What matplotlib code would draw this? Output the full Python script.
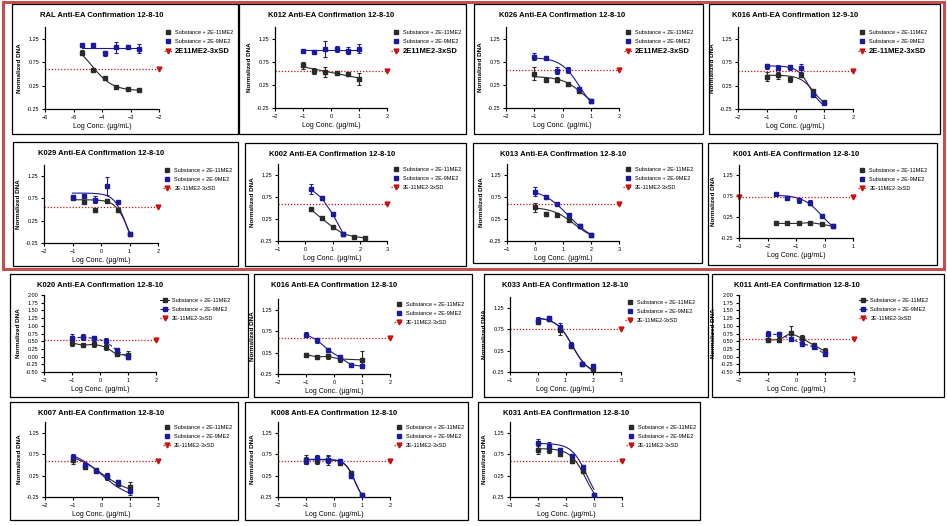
import numpy as np
import matplotlib
matplotlib.use("Agg")
import matplotlib.pyplot as plt
from matplotlib.patches import Rectangle
from matplotlib.lines import Line2D

plt.rcParams['font.family'] = ['Liberation Sans', 'DejaVu Sans']

W, H = 947, 526
nan = np.nan

# ---- chart data ----
titles = [
    "RAL Anti-EA Confirmation 12-8-10", "K012 Anti-EA Confirmation 12-8-10",
    "K026 Anti-EA Confirmation 12-8-10", "K016 Anti-EA Confirmation 12-9-10",
    "K029 Anti-EA Confirmation 12-8-10", "K002 Anti-EA Confirmation 12-8-10",
    "K013 Anti-EA Confirmation 12-8-10", "K001 Anti-EA Confirmation 12-8-10",
    "K020 Anti-EA Confirmation 12-8-10", "K016 Anti-EA Confirmation 12-8-10",
    "K033 Anti-EA Confirmation 12-8-10", "K011 Anti-EA Confirmation 12-8-10",
    "K007 Anti-EA Confirmation 12-8-10", "K008 Anti-EA Confirmation 12-8-10",
    "K031 Anti-EA Confirmation 12-8-10",
]
label_lo = "Substance + 2E-11ME2"
label_hi = "Substance + 2E-9ME2"
cut_labels = ["2E11ME2-3xSD", "2E11ME2-3xSD", "2E11ME2-3xSD", "2E-11ME2-3xSD"] + ["2E-11ME2-3xSD"] * 11

x_conc = [
    [-4.7, -4.3, -3.9, -3.5, -3.1, -2.7],
    [-1, -0.6, -0.2, 0.2, 0.6, 1.0],
    [-1, -0.6, -0.2, 0.2, 0.6, 1.0],
    [-1, -0.6, -0.2, 0.2, 0.6, 1.0],
    [-1, -0.6, -0.2, 0.2, 0.6, 1.0],
    [0.2, 0.6, 1.0, 1.4, 1.8, 2.2],
    [0, 0.4, 0.8, 1.2, 1.6, 2.0],
    [-1.7, -1.3, -0.9, -0.5, -0.1, 0.3],
    [-1, -0.6, -0.2, 0.2, 0.6, 1.0],
    [-1, -0.6, -0.2, 0.2, 0.6, 1.0],
    [0, 0.4, 0.8, 1.2, 1.6, 2.0],
    [-1, -0.6, -0.2, 0.2, 0.6, 1.0],
    [-1, -0.6, -0.2, 0.2, 0.6, 1.0],
    [-1, -0.6, -0.2, 0.2, 0.6, 1.0],
    [-2, -1.6, -1.2, -0.8, -0.4, 0.0],
]
lo_y = [
    [0.95, 0.58, 0.41, 0.22, 0.18, 0.16],
    [0.67, 0.55, 0.53, 0.50, 0.48, 0.38],
    [0.49, 0.36, 0.36, 0.26, 0.12, -0.09],
    [0.44, 0.47, 0.38, 0.47, 0.13, -0.11],
    [0.75, 0.67, 0.48, 0.70, 0.48, -0.04],
    [0.47, 0.265, 0.07, -0.09, -0.15, -0.18],
    [0.52, 0.37, 0.35, 0.23, 0.08, -0.11],
    [0.10, 0.10, 0.10, 0.12, 0.08, 0.03],
    [0.44, 0.37, 0.40, 0.31, 0.07, 0.05],
    [0.20, 0.15, 0.16, 0.10, nan, 0.08],
    [0.91, 0.98, 0.72, 0.35, -0.06, -0.17],
    [0.54, 0.55, 0.76, 0.59, 0.37, 0.17],
    [0.62, 0.45, 0.38, 0.22, 0.05, -0.02],
    [0.62, 0.60, 0.62, 0.55, 0.30, -0.20],
    [0.85, 0.85, 0.75, 0.60, 0.35, -0.20],
]
lo_err = [
    [0.05, 0.02, 0.03, 0.02, 0.01, 0.01],
    [0.07, 0.07, 0.11, 0.03, 0.03, 0.13],
    [0.14, 0.03, 0.05, 0.02, 0.02, 0.02],
    [0.10, 0.07, 0.05, 0.03, 0.02, 0.02],
    [0.03, 0.03, 0.03, 0.03, 0.03, 0.02],
    [0.04, 0.02, 0.02, 0.02, 0.02, 0.02],
    [0.10, 0.05, 0.03, 0.03, 0.02, 0.02],
    [0.02, 0.02, 0.02, 0.02, 0.02, 0.02],
    [0.08, 0.04, 0.08, 0.08, 0.03, 0.12],
    [0.03, 0.02, 0.06, 0.06, 0.0, 0.20],
    [0.05, 0.05, 0.10, 0.05, 0.03, 0.03],
    [0.08, 0.06, 0.22, 0.12, 0.05, 0.12],
    [0.10, 0.05, 0.05, 0.08, 0.05, 0.12],
    [0.10, 0.08, 0.12, 0.05, 0.05, 0.05],
    [0.10, 0.08, 0.05, 0.05, 0.05, 0.03],
]
hi_y = [
    [1.11, 1.12, 0.94, 1.07, 1.08, 1.04],
    [0.98, 0.95, 1.03, 1.03, 0.99, 1.03],
    [0.86, 0.83, 0.56, 0.57, 0.16, -0.09],
    [0.66, 0.63, 0.64, 0.63, 0.05, -0.12],
    [0.79, 0.81, 0.72, 1.03, 0.67, -0.04],
    [0.93, 0.73, 0.37, -0.09, nan, nan],
    [0.87, 0.75, 0.58, 0.33, 0.09, -0.11],
    [0.80, 0.71, 0.65, 0.59, 0.27, 0.03],
    [0.60, 0.63, 0.59, 0.50, 0.20, -0.02],
    [0.67, 0.54, 0.31, 0.14, -0.03, -0.07],
    [0.96, 1.00, 0.79, 0.39, -0.06, -0.12],
    [0.72, 0.72, 0.58, 0.42, 0.32, 0.07],
    [0.68, 0.50, 0.35, 0.25, 0.10, -0.12],
    [0.60, 0.65, 0.62, 0.58, 0.25, -0.20],
    [1.00, 0.95, 0.85, 0.70, 0.45, -0.20],
]
hi_err = [
    [0.03, 0.03, 0.05, 0.12, 0.03, 0.10],
    [0.02, 0.02, 0.17, 0.07, 0.08, 0.10],
    [0.07, 0.03, 0.07, 0.07, 0.03, 0.02],
    [0.05, 0.05, 0.05, 0.08, 0.03, 0.02],
    [0.03, 0.05, 0.08, 0.20, 0.02, 0.02],
    [0.12, 0.05, 0.05, 0.03, 0.0, 0.0],
    [0.10, 0.04, 0.02, 0.03, 0.03, 0.02],
    [0.04, 0.03, 0.07, 0.06, 0.02, 0.02],
    [0.12, 0.10, 0.07, 0.10, 0.04, 0.06],
    [0.05, 0.06, 0.05, 0.05, 0.03, 0.05],
    [0.07, 0.05, 0.10, 0.05, 0.03, 0.05],
    [0.12, 0.08, 0.05, 0.08, 0.02, 0.03],
    [0.08, 0.05, 0.05, 0.05, 0.05, 0.08],
    [0.08, 0.08, 0.08, 0.05, 0.05, 0.03],
    [0.10, 0.08, 0.05, 0.05, 0.05, 0.03],
]
cutoff = [0.605, 0.56, 0.57, 0.56, 0.55, 0.59, 0.59, 0.73, 0.53, 0.60, 0.75, 0.58, 0.60, 0.60, 0.60]

# fitted curves: (top, bottom, logEC50, hill), or a drawing mode
lo_fit = [(1.2, 0.14, -4.35, 1.2), "linear", (0.43, -0.3, 0.7, 1.2), (0.47, -0.25, 0.65, 1.8),
          (0.72, -0.6, 0.95, 2.0), "line", (0.52, -0.25, 1.4, 1.1), "line", "line", "line",
          (1.02, -0.3, 1.25, 1.5), "line", (0.8, -0.2, 0.0, 0.8), (0.62, -0.4, 0.75, 2.5),
          (0.88, -0.5, -0.3, 1.6)]
hi_fit = ["flat", "flat", (0.84, -0.4, 0.6, 1.3), (0.67, -0.25, 0.5, 2.0),
          (0.87, -0.6, 0.9, 2.0), "line", (0.95, -0.3, 1.2, 0.9), (0.78, -0.2, -0.1, 1.3),
          "dash", "line", (1.02, -0.3, 1.25, 1.5), "dash", (0.85, -0.3, 0.0, 0.85),
          (0.63, -0.4, 0.75, 2.5), (1.0, -0.5, -0.25, 1.6)]

x_lims = [(-6, -2), (-2, 2), (-2, 2), (-2, 2), (-2, 2), (-1, 3), (-1, 3), (-3, 1),
          (-2, 2), (-2, 2), (-1, 3), (-2, 2), (-2, 2), (-2, 2), (-3, 1)]
y_lims = [(-0.25, 1.5)] * 8 + [(-0.5, 2.0), (-0.25, 1.5), (-0.25, 1.5), (-0.5, 2.0)] + [(-0.25, 1.5)] * 3

# ---- layout in pixels ----
boxes = [(12, 4, 238, 134), (239, 4, 466, 134), (474, 4, 703, 134), (709, 4, 940, 134),
         (13, 142, 238, 266), (245, 143, 466, 266), (473, 143, 702, 263), (708, 143, 937, 265),
         (10, 274, 248, 397), (254, 274, 472, 397), (484, 274, 708, 397), (712, 274, 944, 397),
         (10, 402, 238, 520), (245, 402, 468, 520), (478, 402, 700, 520)]
# x-left, x-right, y-bottom, y-top of the plotting area
areas = [(45, 159, 109, 27), (275, 387, 108, 27), (506, 619, 108, 27), (738, 853, 109, 27),
         (44, 158, 243, 165), (278, 387, 241, 164), (507, 619, 241, 164), (739, 853, 238, 165),
         (44, 156, 372, 295), (278, 390, 374, 299), (510, 621, 372, 297), (739, 854, 372, 295),
         (45, 158, 497, 422), (278, 390, 497, 422), (510, 622, 497, 422)]

BLK = '#2a2a2a'
BLU = '#1a1a9c'
RED = '#cc1111'


def logistic(x, p):
    top, bottom, ec50, hill = p
    return bottom + (top - bottom) / (1 + 10 ** ((x - ec50) * hill))


def draw_fit(ax, x, y, fit, color):
    ok = ~np.isnan(y)
    x, y = x[ok], y[ok]
    if isinstance(fit, tuple):
        xx = np.linspace(x.min(), x.max(), 100)
        ax.plot(xx, logistic(xx, fit), color=color, lw=0.8, zorder=2)
    elif fit == "flat":
        ax.plot([x.min(), x.max()], [y.mean()] * 2, color=color, lw=0.8, zorder=2)
    elif fit == "linear":
        k, b = np.polyfit(x, y, 1)
        ax.plot([x.min(), x.max()], [k * x.min() + b, k * x.max() + b], color=color, lw=0.8, zorder=2)
    elif fit == "line":
        ax.plot(x, y, color=color, lw=0.8, zorder=2)
    elif fit == "dash":
        ax.plot(x, y, color=color, lw=0.8, ls=(0, (3, 2)), zorder=2)


fig = plt.figure(figsize=(W / 100, H / 100), dpi=100)

for i in range(15):
    l, t, r, b = boxes[i]
    fig.add_artist(Rectangle((l / W, 1 - b / H), (r - l) / W, (b - t) / H,
                             transform=fig.transFigure, fill=False, ec='black', lw=0.9))
    x0, x1, yb, yt = areas[i]
    ax = fig.add_axes([x0 / W, 1 - yb / H, (x1 - x0) / W, (yb - yt) / H])
    ax.set_xlim(*x_lims[i])
    ax.set_ylim(*y_lims[i])

    x = np.array(x_conc[i], dtype=float)
    for yv, ev, fit, col in [(lo_y[i], lo_err[i], lo_fit[i], BLK), (hi_y[i], hi_err[i], hi_fit[i], BLU)]:
        yv = np.array(yv, dtype=float)
        draw_fit(ax, x, yv, fit, col)
        ax.errorbar(x, yv, yerr=ev, fmt='s', color=col, ms=3.2, elinewidth=0.8,
                    capsize=1.6, capthick=0.8, zorder=3)

    xa, xb = x_lims[i]
    ax.plot([xa, xb], [cutoff[i]] * 2, ls=(0, (1, 1.5)), color=RED, lw=0.9, zorder=2)
    ends = [xa, xb] if i == 7 else [xb]
    ax.plot(ends, [cutoff[i]] * len(ends), 'v', color=RED, ms=3.5, clip_on=False, zorder=2)

    for s in ['top', 'right']:
        ax.spines[s].set_visible(False)
    for s in ['left', 'bottom']:
        ax.spines[s].set_linewidth(0.9)
    ax.set_xticks(np.arange(xa, xb + 1, 1))
    if y_lims[i][1] > 1.8:
        ax.set_yticks(np.arange(-0.5, 2.01, 0.25))
        ax.set_yticklabels(["%.2f" % v for v in np.arange(-0.5, 2.01, 0.25)])
    else:
        ax.set_yticks([-0.25, 0.25, 0.75, 1.25])
        ax.set_yticklabels(["-0.25", "0.25", "0.75", "1.25"])
    ax.tick_params(labelsize=4, length=2.5, width=0.8, pad=1.5, direction='out')
    ax.set_xlabel("Log Conc. (µg/mL)", fontsize=5, labelpad=2.5)
    ax.set_ylabel("Normalized DNA", fontsize=4.6, fontweight='bold', labelpad=3.5)

    fig.text((x0 + x1) / 2 / W, 1 - (t + 11.5) / H, titles[i], ha='center', va='center',
             fontsize=5.5, fontweight='bold')

    if hi_fit[i] == "dash":
        h_lo = Line2D([], [], color=BLK, marker='s', ms=3, lw=0.8)
        h_hi = Line2D([], [], color=BLU, marker='s', ms=3, lw=0.8, ls=(0, (3, 2)))
    else:
        h_lo = Line2D([], [], color=BLK, marker='s', ms=3, lw=0)
        h_hi = Line2D([], [], color=BLU, marker='s', ms=3, lw=0)
    h_cut = Line2D([], [], color=RED, marker='v', ms=3.5, lw=0.9, ls=(0, (1, 1.5)))
    leg = ax.legend([h_lo, h_hi, h_cut], [label_lo, label_hi, cut_labels[i]],
                    loc='upper left', bbox_to_anchor=(1.04, 0.96), frameon=False,
                    fontsize=4, handlelength=1.6, handletextpad=0.5, labelspacing=0.7,
                    borderpad=0, borderaxespad=0)
    if i < 4:
        leg.get_texts()[2].set_fontsize(5.5)
        leg.get_texts()[2].set_fontweight('bold')

# red frame around the first two rows
fig.add_artist(Rectangle((3 / W, 1 - 269 / H), 941 / W, 267 / H, transform=fig.transFigure,
                         fill=False, ec='#c0504d', lw=2.2))

fig.savefig("out.png", dpi=100)
